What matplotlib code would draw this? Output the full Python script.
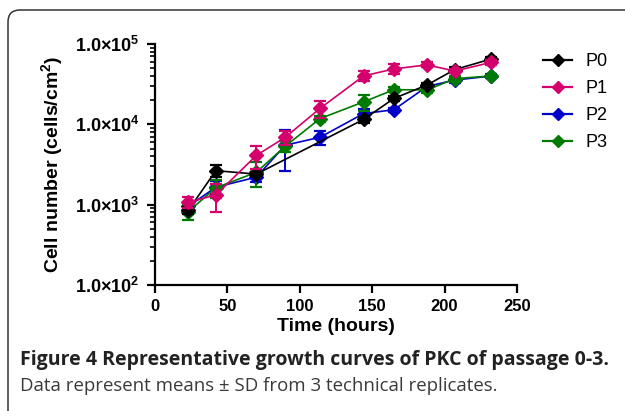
import numpy as np
import matplotlib
matplotlib.use("Agg")
import matplotlib.pyplot as plt
from matplotlib.lines import Line2D
from matplotlib.patches import FancyBboxPatch
from matplotlib.ticker import FixedLocator, LogLocator, NullFormatter, FuncFormatter

# ---------------- data ----------------
series_names = ["P0", "P1", "P2", "P3"]
series_colors = ["#000000", "#d4006c", "#0000c8", "#007a00"]

hours_p0 = [23, 42, 70, 144, 165, 188, 207, 232]
cells_p0 = [850, 2650, 2400, 11500, 21000, 31000, 48000, 65000]
sd_p0 = [80, 450, 150, 1000, 1500, 2000, 3000, 3000]

hours_all = [23, 42, 70, 90, 114, 144, 165, 188, 207, 232]
cells_p1 = [1070, 1320, 4100, 6900, 15800, 40000, 49000, 55000, 46000, 59000]
sd_p1 = [170, 500, 1300, 1400, 3800, 5500, 7000, 4000, 3000, 4000]

cells_p2 = [950, 1650, 2200, 5500, 6900, 13600, 15200, 29700, 35500, 40000]
sd_p2 = [100, 300, 300, 2900, 1400, 1800, 1000, 2000, 2500, 2000]

cells_p3 = [820, 1620, 2530, 5350, 11800, 19000, 27000, 26800, 37000, 40000]
sd_p3 = [170, 400, 850, 850, 1000, 4500, 2000, 2000, 3000, 1500]

x_ticks = [0, 50, 100, 150, 200, 250]
y_ticks = [1e2, 1e3, 1e4, 1e5]

caption_title = "Figure 4 Representative growth curves of PKC of passage 0-3."
caption_body = "Data represent means \u00b1 SD from 3 technical replicates."

# ---------------- style ----------------
plt.rcParams['font.family'] = ['Liberation Sans', 'DejaVu Sans']
plt.rcParams['mathtext.fontset'] = 'custom'
plt.rcParams['mathtext.rm'] = 'Liberation Sans:bold'
plt.rcParams['mathtext.bf'] = 'Liberation Sans:bold'
plt.rcParams['mathtext.it'] = 'Liberation Sans:bold'

W, H = 625, 411
fig = plt.figure(figsize=(W / 100, H / 100), dpi=100)

# rounded frame
frame = FancyBboxPatch((0.08, -1.0), 7.0, 4.01 + 1.0,
                       boxstyle="round,pad=0,rounding_size=0.12",
                       transform=fig.dpi_scale_trans, fill=False,
                       edgecolor="#333333", linewidth=1.1, clip_on=False)
fig.patches.append(frame)

ax_l, ax_r, ax_t, ax_b = 155, 517, 44, 285
ax = fig.add_axes([ax_l / W, 1 - ax_b / H, (ax_r - ax_l) / W, (ax_b - ax_t) / H])

data = [
    (hours_p0, cells_p0, sd_p0),
    (hours_all, cells_p1, sd_p1),
    (hours_all, cells_p2, sd_p2),
    (hours_all, cells_p3, sd_p3),
]
order = [2, 3, 0, 1]
for z, i in enumerate(order):
    x, y, e = data[i]
    ax.errorbar(x, y, yerr=e, color=series_colors[i], marker='D', markersize=7,
                linewidth=1.2, elinewidth=1.4, capsize=4, capthick=1.6,
                zorder=3 + z, clip_on=False)

ax.set_yscale('log')
ax.set_xlim(0, 250)
ax.set_ylim(1e2, 1e5)

for s in ['top', 'right']:
    ax.spines[s].set_visible(False)
for s in ['left', 'bottom']:
    ax.spines[s].set_linewidth(1.6)

ax.xaxis.set_major_locator(FixedLocator(x_ticks))
ax.yaxis.set_major_locator(FixedLocator(y_ticks))
ax.yaxis.set_minor_locator(LogLocator(base=10, subs=np.arange(2, 10)))
ax.yaxis.set_minor_formatter(NullFormatter())

def yfmt(v, pos):
    exp = int(round(np.log10(v)))
    return "1.0\u00d710$^{%d}$" % exp

ax.yaxis.set_major_formatter(FuncFormatter(yfmt))
ax.tick_params(axis='both', which='major', direction='out', length=6, width=1.6,
               labelsize=12, pad=4)
ax.tick_params(axis='y', which='major', pad=5, labelsize=13)
ax.tick_params(axis='y', which='minor', direction='out', length=3.5, width=1.2)
for lbl in ax.get_xticklabels() + ax.get_yticklabels():
    lbl.set_fontweight('bold')

ax.set_xlabel("Time (hours)", fontsize=14, fontweight='bold', labelpad=3)
ax.set_ylabel(r"Cell number (cells/cm$^{2}$)", fontsize=14, fontweight='bold', labelpad=7)

handles = [Line2D([], [], color=c, marker='D', markersize=6.5, linewidth=1.6)
           for c in series_colors]
fig.legend(handles, series_names, loc='upper left',
           bbox_to_anchor=(527 / W, 1 - 37 / H), frameon=False,
           fontsize=13, handlelength=1.6, handletextpad=0.75, labelspacing=0.55)

fig.text(20 / W, 1 - 365 / H, caption_title, fontsize=14, fontweight='bold',
         family=['Open Sans', 'DejaVu Sans'], color='#222222', va='baseline')
fig.text(20 / W, 1 - 391 / H, caption_body, fontsize=13.4, fontweight='normal',
         family=['Open Sans', 'DejaVu Sans'], color='#3a3a3a', va='baseline')

fig.savefig("out.png", dpi=100)
